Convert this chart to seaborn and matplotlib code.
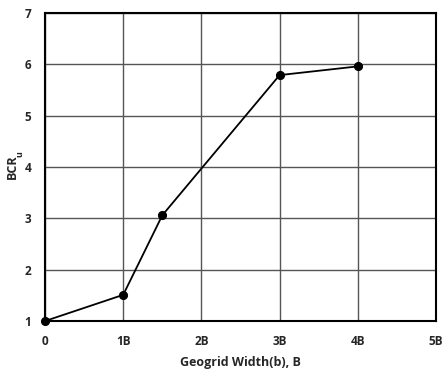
import matplotlib
matplotlib.use("Agg")
import matplotlib.pyplot as plt
import seaborn as sns
import pandas as pd

# Bearing capacity ratio versus geogrid width
width = [0, 1, 1.5, 3, 4]
bcr = [1.0, 1.51, 3.06, 5.79, 5.96]
x_ticks = [0, 1, 2, 3, 4, 5]
x_labels = ["0", "1B", "2B", "3B", "4B", "5B"]
y_ticks = [1, 2, 3, 4, 5, 6, 7]

sns.set_theme(style="white")
plt.rcParams['font.family'] = ['Open Sans', 'DejaVu Sans']

df = pd.DataFrame({"width": width, "bcr": bcr})

fig = plt.figure(figsize=(4.47, 3.69), dpi=100)
ax = fig.add_axes([0.1007, 0.130, 0.8747, 0.8348])

sns.lineplot(data=df, x="width", y="bcr", ax=ax, color="black", linewidth=1.3,
             marker="o", markersize=5.8, markeredgecolor="black",
             markerfacecolor="black", zorder=5, clip_on=False)

ax.set_xlim(0, 5)
ax.set_ylim(1, 7)
ax.set_xticks(x_ticks)
ax.set_xticklabels(x_labels)
ax.set_yticks(y_ticks)
ax.grid(True, color="#555555", linewidth=1.0)
ax.set_axisbelow(True)
for s in ax.spines.values():
    s.set_color("black")
    s.set_linewidth(1.5)
ax.tick_params(axis="both", length=0, labelsize=8.5, pad=10)
for lab in ax.get_xticklabels() + ax.get_yticklabels():
    lab.set_fontweight("bold")

ax.set_xlabel("Geogrid Width(b), B", fontsize=9, fontweight="bold", labelpad=6)
ax.set_ylabel("BCR", fontsize=9, fontweight="bold", labelpad=4)

# subscript "u" attached to the end of the rotated y label
ax.annotate("u", xy=(1.0, 1.0), xycoords=ax.yaxis.label,
            xytext=(4.0, -2.0), textcoords="offset points",
            rotation=90, ha="right", va="bottom",
            fontsize=6.5, fontweight="bold")

fig.savefig("out.png", dpi=100)
